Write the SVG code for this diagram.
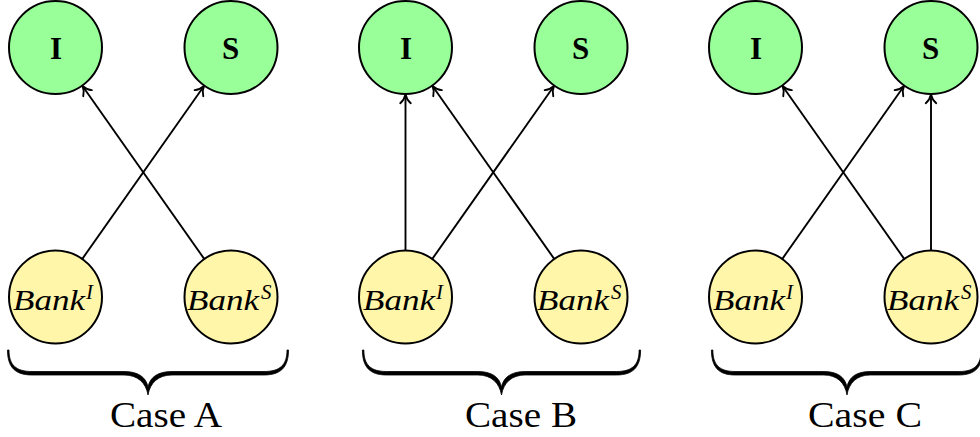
<svg xmlns="http://www.w3.org/2000/svg" xmlns:xlink="http://www.w3.org/1999/xlink" width="980" height="437" viewBox="0 0 980 437">
  <style>
    .sector { fill: #99FF99; stroke: #000; stroke-width: 2; }
    .bank { fill: #FFF6AA; stroke: #000; stroke-width: 2; }
    .lbl { font-weight: bold; font-size: 31px; text-anchor: middle; fill: #000; }
    .bk { font-style: italic; font-size: 30px; fill: #000; }
    .sup { font-style: italic; font-size: 21px; fill: #000; }
    .case { font-size: 36px; text-anchor: middle; fill: #000; }
    .edge { stroke: #000; stroke-width: 1.9; fill: none; marker-end: url(#tip); }
    .brace { fill: #000; stroke: #000; stroke-width: 0.8; }
  </style>
  <defs>
    <marker id="tip" markerUnits="userSpaceOnUse" markerWidth="14" markerHeight="14" viewBox="-9 -6 11 12" refX="0" refY="0" orient="auto">
      <path d="M -7.5,-4.5 C -5,-1.6 -2.2,-0.5 0,0 C -2.2,0.5 -5,1.6 -7.5,4.5" fill="none" stroke="#000" stroke-width="1.6" stroke-linecap="round"/>
    </marker>
    <!-- curly brace, tips at y=0, cusp pointing down -->
    <path id="brace" d="M -140.5,0 C -140.5,17 -133,25 -116,25 L -24,25 C -10,25 -2,33 0,45 C 2,33 10,25 24,25 L 116,25 C 133,25 140.5,17 140.5,0 L 139,0 C 139,15 132,21.5 116,21.5 L 24,21.5 C 10,21.5 2,27 0,37 C -2,27 -10,21.5 -24,21.5 L -116,21.5 C -132,21.5 -139,15 -139,0 Z"/>
  </defs>

  <!-- connectors -->
  <g id="connectors">
    <!-- Case A -->
    <line class="edge" x1="82.5" y1="258.6" x2="204" y2="86"/>
    <line class="edge" x1="204" y1="258.6" x2="82.5" y2="86"/>
    <!-- Case B -->
    <line class="edge" x1="405.5" y1="250" x2="405.5" y2="94.5"/>
    <line class="edge" x1="432.5" y1="258.6" x2="554" y2="86"/>
    <line class="edge" x1="554" y1="258.6" x2="432.5" y2="86"/>
    <!-- Case C -->
    <line class="edge" x1="782.5" y1="258.6" x2="904" y2="86"/>
    <line class="edge" x1="904" y1="258.6" x2="782.5" y2="86"/>
    <line class="edge" x1="931" y1="250" x2="931" y2="94.5"/>
  </g>

  <g font-family="'Liberation Serif', 'DejaVu Serif', serif">
  <!-- Case A -->
  <g id="A-I"><circle class="sector" cx="55.5" cy="47.5" r="46.5"/><text class="lbl" x="56" y="59">I</text></g>
  <g id="A-S"><circle class="sector" cx="231" cy="47.5" r="46.5"/><text class="lbl" x="230.5" y="59">S</text></g>
  <g id="A-BankI"><circle class="bank" cx="55.5" cy="297" r="46.5"/><text class="bk" x="13" y="310" textLength="72" lengthAdjust="spacingAndGlyphs">Bank</text><text class="sup" x="86" y="299">I</text></g>
  <g id="A-BankS"><circle class="bank" cx="231" cy="297" r="46.5"/><text class="bk" x="187" y="310" textLength="72" lengthAdjust="spacingAndGlyphs">Bank</text><text class="sup" x="261" y="299">S</text></g>

  <!-- Case B -->
  <g id="B-I"><circle class="sector" cx="405.5" cy="47.5" r="46.5"/><text class="lbl" x="406" y="59">I</text></g>
  <g id="B-S"><circle class="sector" cx="581" cy="47.5" r="46.5"/><text class="lbl" x="580.5" y="59">S</text></g>
  <g id="B-BankI"><circle class="bank" cx="405.5" cy="297" r="46.5"/><text class="bk" x="363" y="310" textLength="72" lengthAdjust="spacingAndGlyphs">Bank</text><text class="sup" x="436" y="299">I</text></g>
  <g id="B-BankS"><circle class="bank" cx="581" cy="297" r="46.5"/><text class="bk" x="537" y="310" textLength="72" lengthAdjust="spacingAndGlyphs">Bank</text><text class="sup" x="611" y="299">S</text></g>

  <!-- Case C -->
  <g id="C-I"><circle class="sector" cx="755.5" cy="47.5" r="46.5"/><text class="lbl" x="756" y="59">I</text></g>
  <g id="C-S"><circle class="sector" cx="931" cy="47.5" r="46.5"/><text class="lbl" x="930.5" y="59">S</text></g>
  <g id="C-BankI"><circle class="bank" cx="755.5" cy="297" r="46.5"/><text class="bk" x="713" y="310" textLength="72" lengthAdjust="spacingAndGlyphs">Bank</text><text class="sup" x="786" y="299">I</text></g>
  <g id="C-BankS"><circle class="bank" cx="931" cy="297" r="46.5"/><text class="bk" x="887" y="310" textLength="72" lengthAdjust="spacingAndGlyphs">Bank</text><text class="sup" x="961" y="299">S</text></g>

  <!-- braces and case labels -->
  <g id="caseA">
    <use xlink:href="#brace" class="brace" transform="translate(148,350)"/>
    <text class="case" x="166" y="427" textLength="112" lengthAdjust="spacingAndGlyphs">Case A</text>
  </g>
  <g id="caseB">
    <use xlink:href="#brace" class="brace" transform="translate(501.5,350) scale(0.99,1)"/>
    <text class="case" x="521" y="427" textLength="112" lengthAdjust="spacingAndGlyphs">Case B</text>
  </g>
  <g id="caseC">
    <use xlink:href="#brace" class="brace" transform="translate(847,350) scale(0.965,1)"/>
    <text class="case" x="865" y="427" textLength="114" lengthAdjust="spacingAndGlyphs">Case C</text>
  </g>
  </g>
</svg>
